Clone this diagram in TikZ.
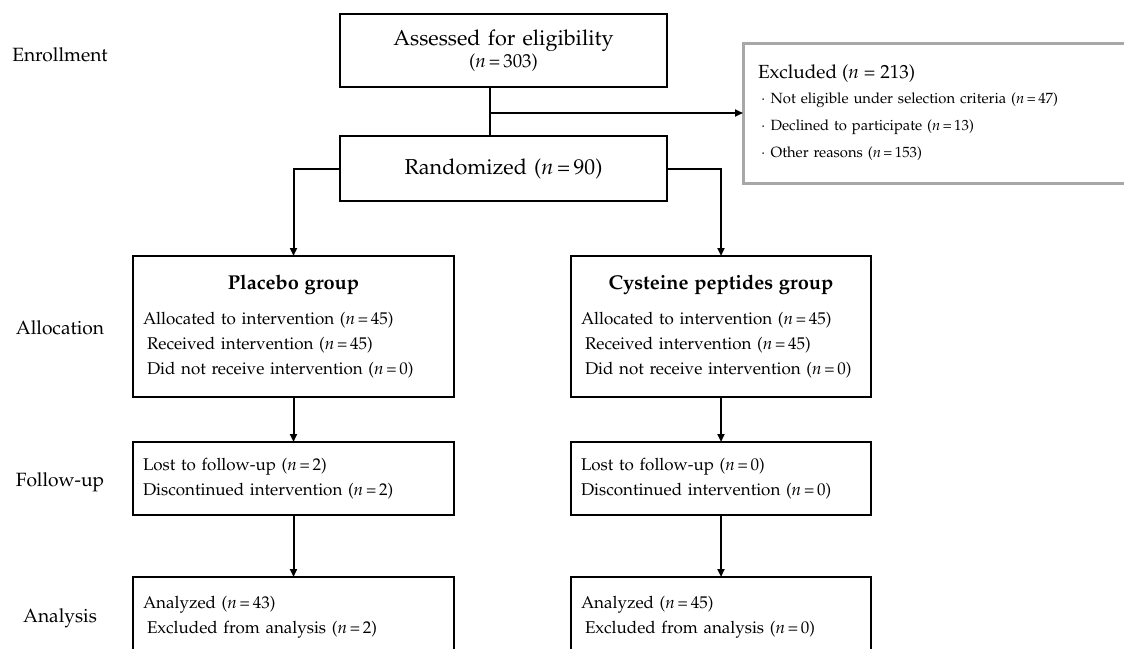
\documentclass[tikz,border=0pt]{standalone}
\usepackage[T1]{fontenc}
\usepackage{mathpazo}
\usepackage{tikz}
\usetikzlibrary{arrows.meta,positioning}
\definecolor{Frame}{HTML}{A8A8A8}
\tikzset{
 stage/.style={font=\fontsize{9.6}{12}\selectfont,inner sep=0pt},
 box/.style={draw=black,line width=1.3pt,inner xsep=5pt,inner ysep=0pt,outer sep=0pt,
   font=\fontsize{8.5}{12.5}\selectfont},
 topbox/.style={box,align=center,text width=153.5pt,font=\fontsize{10.8}{11}\selectfont},
 armbox/.style={box,align=left,text width=150.5pt},
 cysbox/.style={box,align=left,text width=140pt},
 exclbox/.style={draw=Frame,line width=1.5pt,inner xsep=7.5pt,inner ysep=0pt,outer sep=0pt,
   align=left,text width=183.5pt,minimum height=70pt,font=\fontsize{7.4}{13.5}\selectfont},
 link/.style={line width=1pt,draw=black},
 arr/.style={link,-{Triangle[length=4pt,width=3.5pt]}}
}
\newcommand{\grouptitle}[1]{\makebox[\linewidth]{\fontsize{10}{12}\selectfont\bfseries #1}}
\newcommand{\nval}[1]{(\textit{n}\,=\,#1)}
\newcommand{\excitem}{\hspace*{1.5pt}$\cdot$\hspace{2.5pt}}

\begin{document}
\begin{tikzpicture}[x=0.5pt,y=-0.5pt]
\useasboundingbox (0,0) rectangle (1124,648);
\node[stage] (lenr) at (60,55) {Enrollment};
\node[stage] (lall) at (60,328) {Allocation};
\node[stage] (lfol) at (60,482) {Follow-up};
\node[stage] (lana) at (60,618) {Analysis};
\node[topbox,minimum height=36.5pt] (assess) at (503.5,50.5) {Assessed for eligibility\\{\fontsize{9.4}{11}\selectfont\nval{303}}};
\node[topbox,minimum height=32.5pt,below=24.5pt of assess] (rand) {Randomized \nval{90}};
\node[exclbox,anchor=west] (excl) at (743,113) {{\fontsize{9.5}{12}\selectfont Excluded (\textit{n} = 213)}\\[-1pt]
 \excitem Not eligible under selection criteria \nval{47}\\
 \excitem Declined to participate \nval{13}\\
 \excitem Other reasons \nval{153}};
\node[armbox,minimum height=70.5pt] (plac) at (293.5,326.5) {\grouptitle{Placebo group}\\[5pt]
 Allocated to intervention \nval{45}\\
 \hspace*{2pt}Received intervention \nval{45}\\
 \hspace*{2pt}Did not receive intervention \nval{0}};
\node[cysbox,minimum height=70.5pt] (cyst) at (721,326.5) {\grouptitle{Cysteine peptides group}\\[5pt]
 Allocated to intervention \nval{45}\\
 \hspace*{2pt}Received intervention \nval{45}\\
 \hspace*{2pt}Did not receive intervention \nval{0}};
\node[armbox,minimum height=36.5pt,below=22.5pt of plac] (fu1) {Lost to follow-up \nval{2}\\
 Discontinued intervention \nval{2}};
\node[cysbox,minimum height=36.5pt,below=22.5pt of cyst] (fu2) {Lost to follow-up \nval{0}\\
 Discontinued intervention \nval{0}};
\node[armbox,minimum height=40pt,below=31pt of fu1] (an1) {Analyzed \nval{43}\\
 \hspace*{2pt}Excluded from analysis \nval{2}};
\node[cysbox,minimum height=40pt,below=31pt of fu2] (an2) {Analyzed \nval{45}\\
 \hspace*{2pt}Excluded from analysis \nval{0}};
\coordinate (split) at (490,113);
\draw[link] (split |- assess.south) -- (split |- rand.north);
\draw[arr] (split) -- (excl.west);
\draw[arr] (rand.west) -| (plac.north);
\draw[arr] (rand.east) -| (cyst.north);
\draw[arr] (plac.south) -- (fu1.north);
\draw[arr] (cyst.south) -- (fu2.north);
\draw[arr] (fu1.south) -- (an1.north);
\draw[arr] (fu2.south) -- (an2.north);
\end{tikzpicture}
\end{document}
